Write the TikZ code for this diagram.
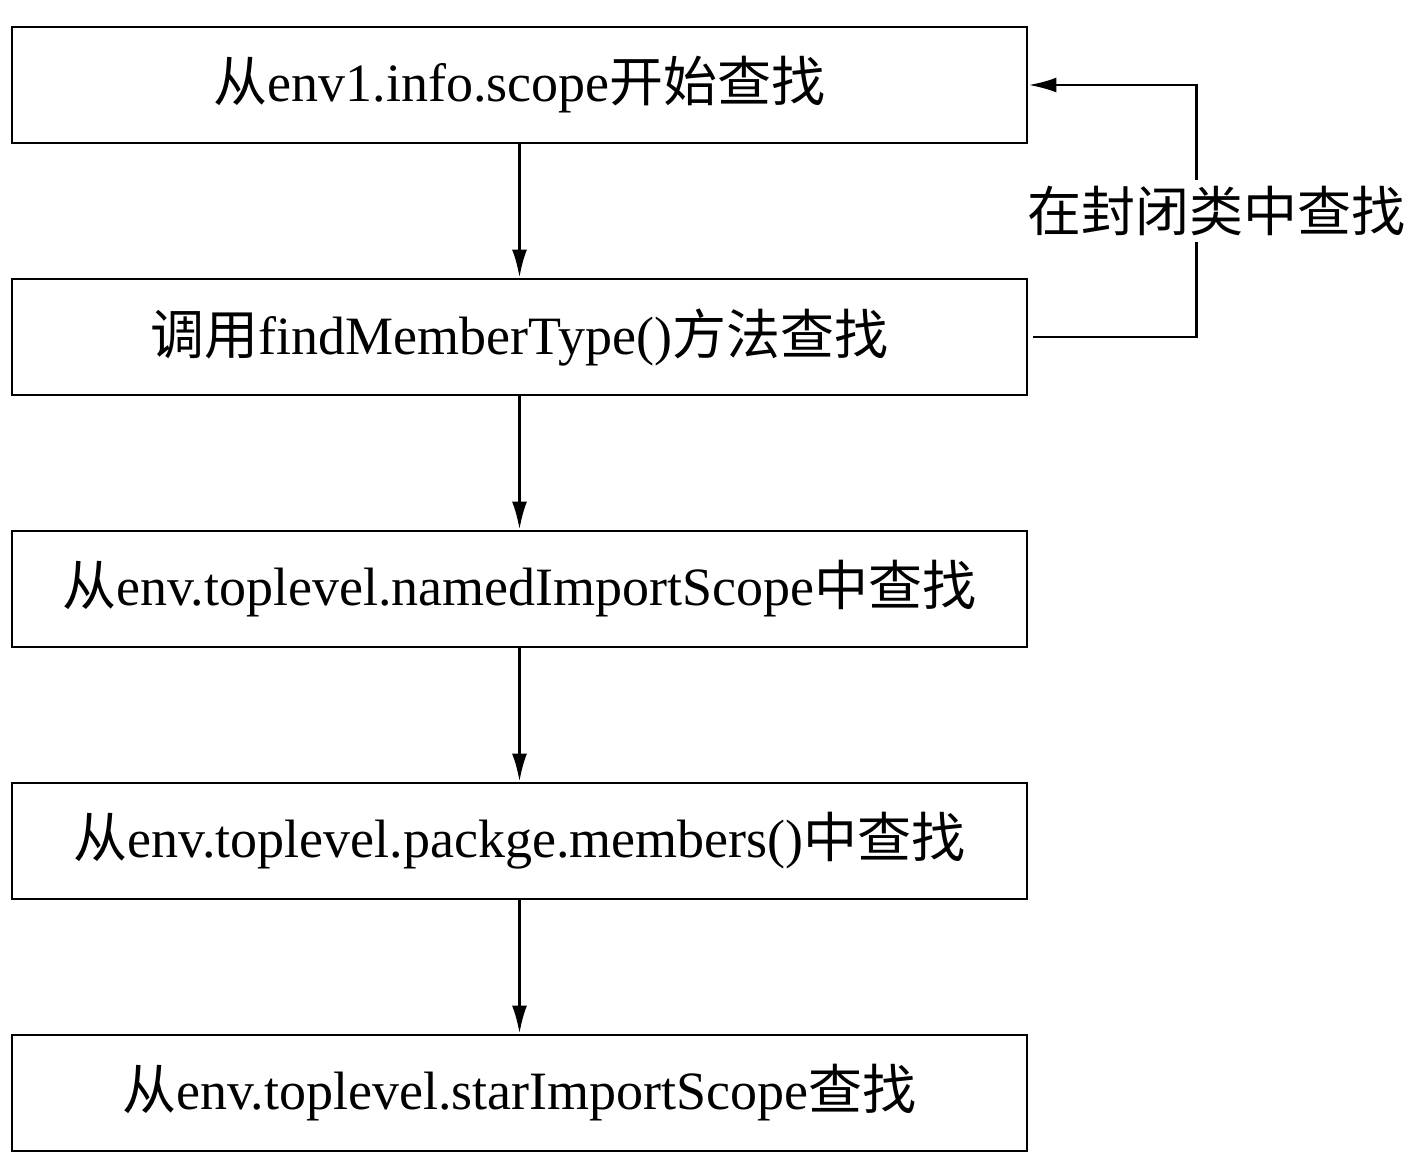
\documentclass[tikz,border=0pt]{standalone}
\usepackage{fontspec}
\setmainfont{Liberation Serif}
\newfontfamily\cjk{Noto Sans CJK SC}
\usetikzlibrary{positioning,arrows.meta}

\begin{document}
\begin{tikzpicture}[x=0.5pt, y=0.5pt,
  stage/.style={draw, line width=1.4pt, minimum width=507.5pt, minimum height=58pt,
    inner sep=0pt, font=\fontsize{27}{31}\selectfont},
  flow/.style={line width=1.4pt, -{Latex[length=14pt,width=7.5pt]}},
  ]
  \useasboundingbox (0,0) rectangle (1414,-1168);

  \node[stage] (s1) at (519.5,-85) {{\cjk 从}env1.info.scope{\cjk 开始查找}};
  \node[stage, below=66.6pt of s1] (s2) {{\cjk 调用}findMemberType(){\cjk 方法查找}};
  \node[stage, below=66.6pt of s2] (s3) {{\cjk 从}env.toplevel.namedImportScope{\cjk 中查找}};
  \node[stage, below=66.6pt of s3] (s4) {{\cjk 从}env.toplevel.packge.members(){\cjk 中查找}};
  \node[stage, below=66.6pt of s4] (s5) {{\cjk 从}env.toplevel.starImportScope{\cjk 查找}};

  \draw[flow] (s1) -- (s2);
  \draw[flow] (s2) -- (s3);
  \draw[flow] (s3) -- (s4);
  \draw[flow] (s4) -- (s5);

  % enclosing class loop
  \draw[flow, shorten <=2.5pt] (s2.east) -- ++(84pt,0) coordinate (back) |- (s1.east)
    node[pos=0.25, fill=white, inner sep=3pt, xshift=10pt, font=\fontsize{27}{31}\selectfont] (enc) {\cjk 在封闭类中查找};

\end{tikzpicture}
\end{document}
